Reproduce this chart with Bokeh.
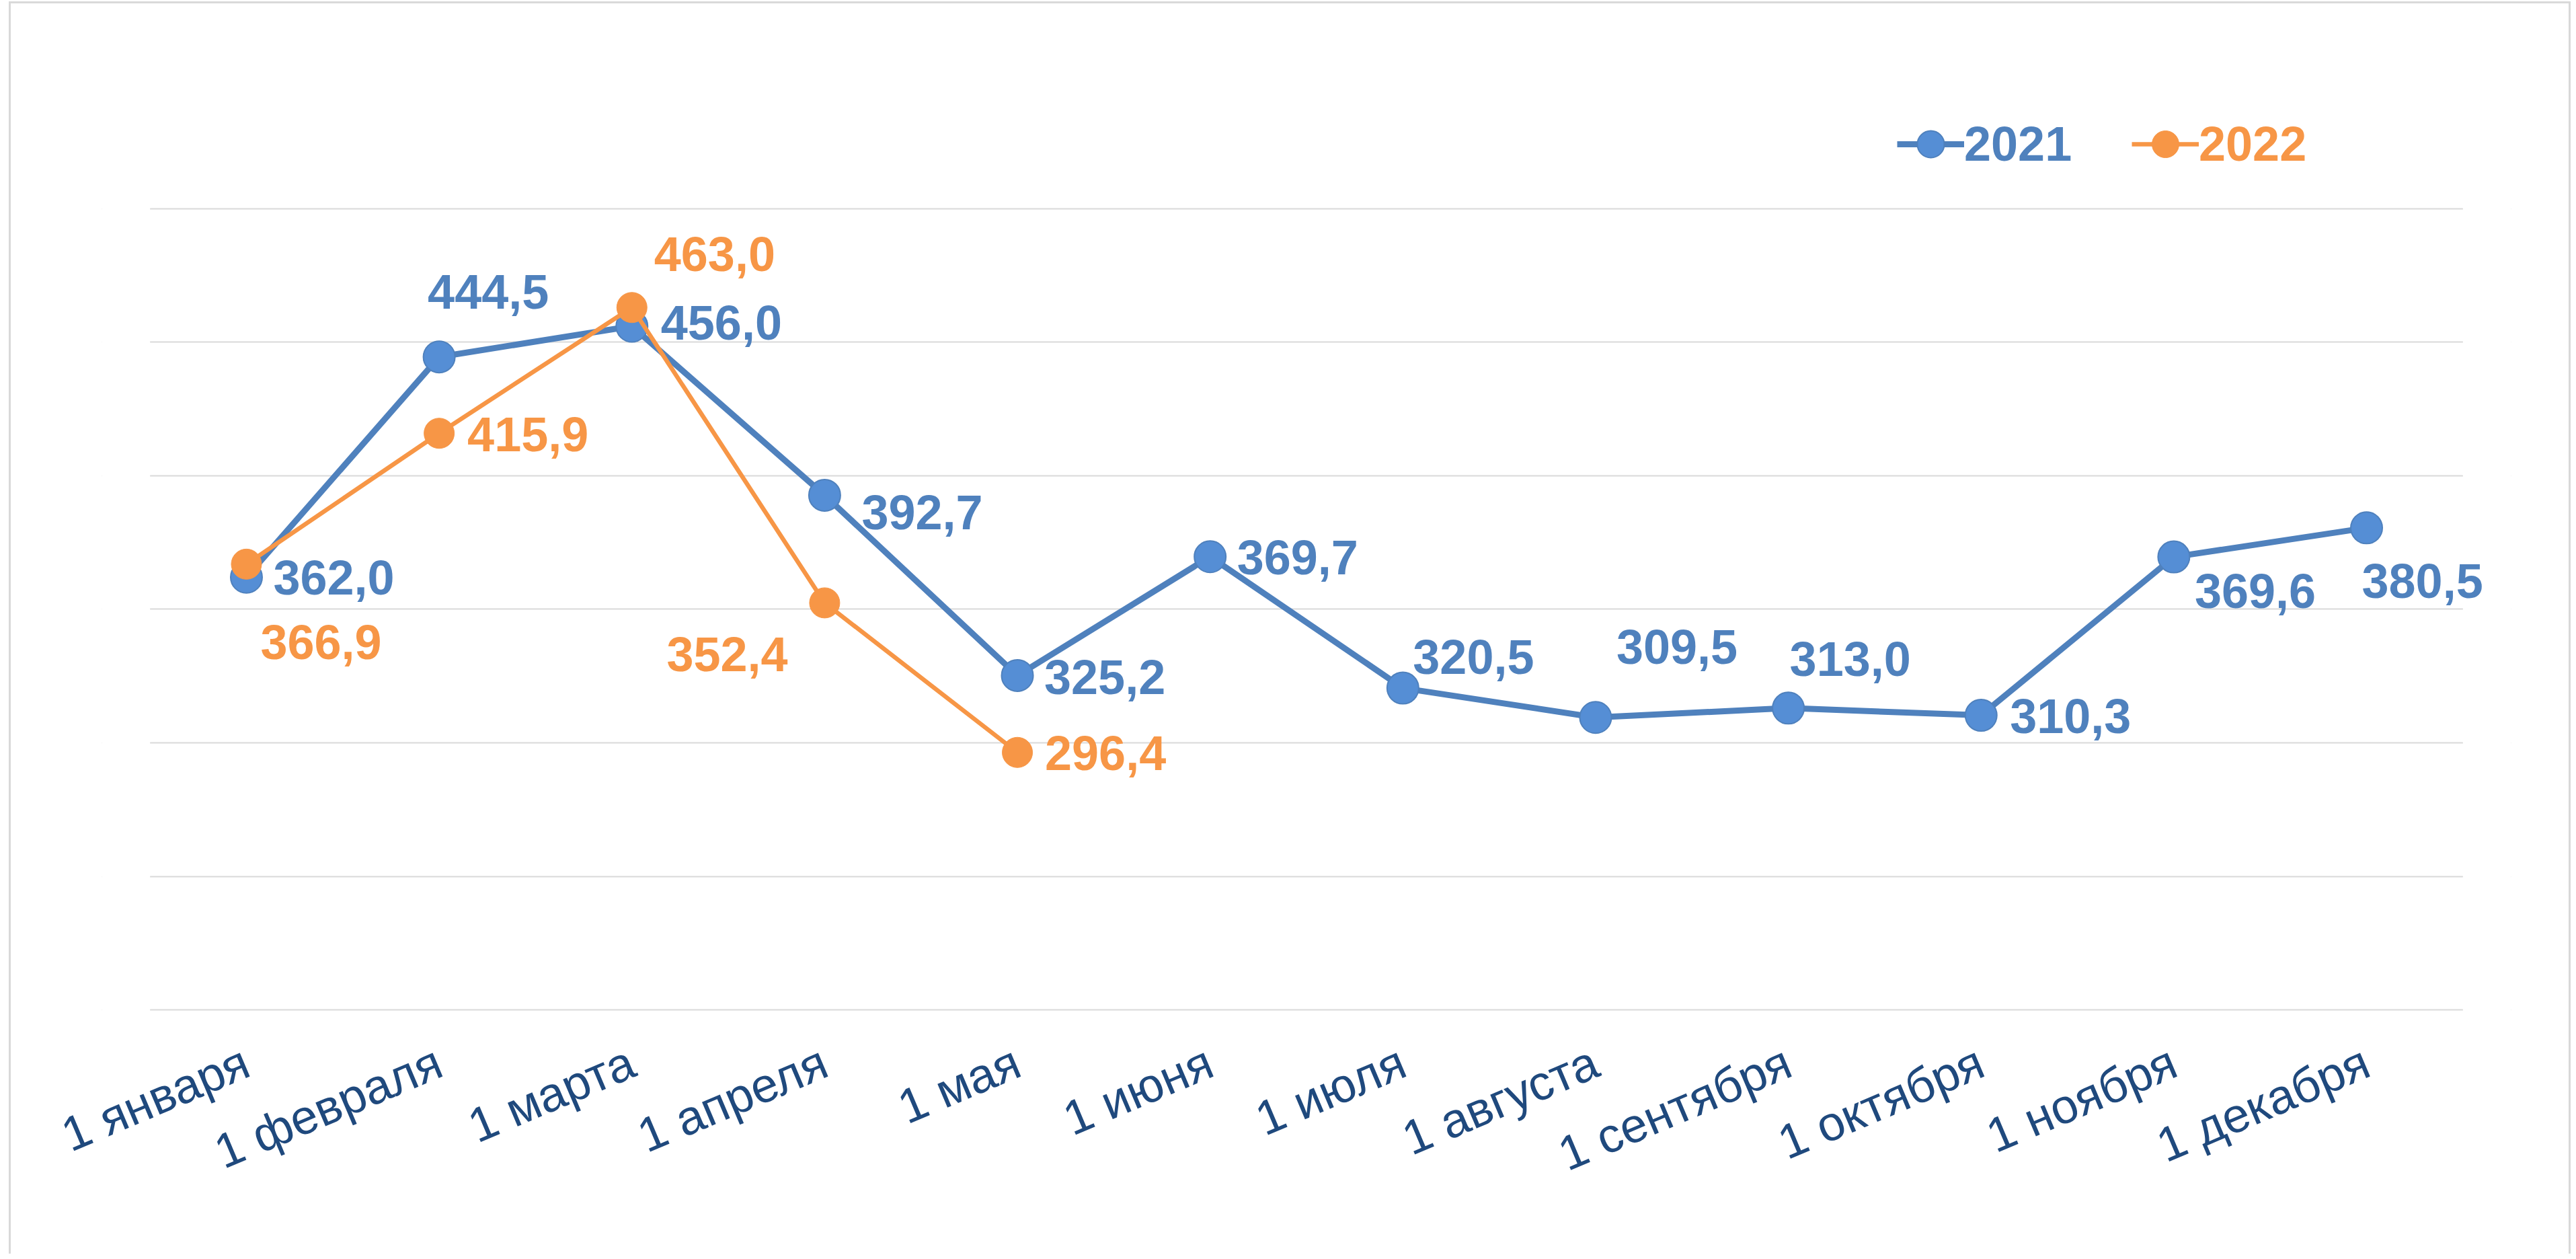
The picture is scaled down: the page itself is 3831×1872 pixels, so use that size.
from bokeh.plotting import figure
from bokeh.models import (ColumnDataSource, FactorRange, Range1d, FixedTicker, Legend,
                          LegendItem, LabelSet, BoxAnnotation)
from bokeh.core.properties import value
from bokeh.embed import file_html
from bokeh.resources import INLINE

# ---- data ----
months = ["1 января", "1 февраля", "1 марта", "1 апреля", "1 мая", "1 июня",
          "1 июля", "1 августа", "1 сентября", "1 октября", "1 ноября", "1 декабря"]
values_2021 = [362.0, 444.5, 456.0, 392.7, 325.2, 369.7, 320.5, 309.5, 313.0, 310.3, 369.6, 380.5]
months_2022 = months[:5]
values_2022 = [366.9, 415.9, 463.0, 352.4, 296.4]
labels_2021 = ["362,0", "444,5", "456,0", "392,7", "325,2", "369,7", "320,5", "309,5",
               "313,0", "310,3", "369,6", "380,5"]
labels_2022 = ["366,9", "415,9", "463,0", "352,4", "296,4"]

# label placement (screen px: dx to text left, dy to baseline, positive down)
dx_2021 = [40, -17, 43, 55, 40, 40, 15, 31, 2, 43, 31, -7]
dy_2021 = [26, -72, 20, 51, 28, 26, -21, -80, -48, 26, 76, 104]
dx_2022 = [21, 42, 33, -235, 41]
dy_2022 = [141, 27, -54, 102, 26]

BLUE = "#4F81BD"
BLUE_FILL = "#558ED5"
ORANGE = "#F79646"
AXIS_TEXT = "#1F497D"
GRID = "#D9D9D9"
FONT = "Liberation Sans"

# extra room on both sides of the category band so that labels are not clipped
x_range = FactorRange(*months, range_padding=0.25, range_padding_units="absolute")

p = figure(x_range=x_range, y_range=Range1d(198, 540),
           frame_width=3583, frame_height=1358,
           min_border_left=151, min_border_right=89, min_border_top=151, min_border_bottom=355,
           output_backend="svg", toolbar_location=None)
p.outline_line_color = None
p.background_fill_color = "white"
p.border_fill_alpha = 0
p.styles = {"box-shadow": ("inset 13px 0 0 0 white, inset 0 2px 0 0 white, "
                           "inset 16px 0 0 0 #D9D9D9, inset 0 5px 0 0 #D9D9D9, "
                           "inset -3px 0 0 0 #D9D9D9")}

p.yaxis.visible = False
p.xgrid.grid_line_color = None
p.ygrid.ticker = FixedTicker(ticks=[200, 250, 300, 350, 400, 450, 500])
p.ygrid.grid_line_color = GRID
p.ygrid.grid_line_width = 2

# mask the grid outside the category band
p.add_layout(BoxAnnotation(right=0, fill_color="white", fill_alpha=1, line_color=None,
                           level="underlay"))
p.add_layout(BoxAnnotation(left=len(months), fill_color="white", fill_alpha=1, line_color=None,
                           level="underlay"))

xa = p.xaxis[0]
xa.axis_line_color = None
xa.major_tick_line_color = None
xa.minor_tick_line_color = None
xa.major_label_orientation = 0.4014
xa.major_label_standoff = 60
xa.major_label_text_font = FONT
xa.major_label_text_font_size = "72px"
xa.major_label_text_color = AXIS_TEXT

src21 = ColumnDataSource(dict(x=months, y=values_2021, t=labels_2021,
                              dx=dx_2021, dy=[-d for d in dy_2021]))
src22 = ColumnDataSource(dict(x=months_2022, y=values_2022, t=labels_2022,
                              dx=dx_2022, dy=[-d for d in dy_2022]))

l21 = p.line("x", "y", source=src21, line_color=BLUE, line_width=9)
s21 = p.scatter("x", "y", source=src21, size=47, fill_color=BLUE_FILL, line_color=BLUE, line_width=2)
l22 = p.line("x", "y", source=src22, line_color=ORANGE, line_width=6.5)
s22 = p.scatter("x", "y", source=src22, size=45, fill_color=ORANGE, line_color=ORANGE, line_width=1)

for src, color in [(src21, BLUE), (src22, ORANGE)]:
    p.add_layout(LabelSet(x="x", y="y", text="t", source=src, x_offset="dx", y_offset="dy",
                          text_font=value(FONT), text_font_style="bold", text_font_size="72px",
                          text_color=color, text_align="left", text_baseline="alphabetic"))

for item, color, loc in [(LegendItem(label="2021", renderers=[l21, s21]), BLUE, (2670, 1245)),
                         (LegendItem(label="2022", renderers=[l22, s22]), ORANGE, (3019, 1245))]:
    lg = Legend(items=[item], location=loc, padding=0, margin=0, spacing=0,
                border_line_color=None, background_fill_alpha=0,
                glyph_width=100, glyph_height=100, label_height=100, label_standoff=-14,
                label_text_font=FONT, label_text_font_style="bold",
                label_text_font_size="72px", label_text_color=color)
    p.add_layout(lg, "center")

open("out.html", "w").write(file_html(p, INLINE))
